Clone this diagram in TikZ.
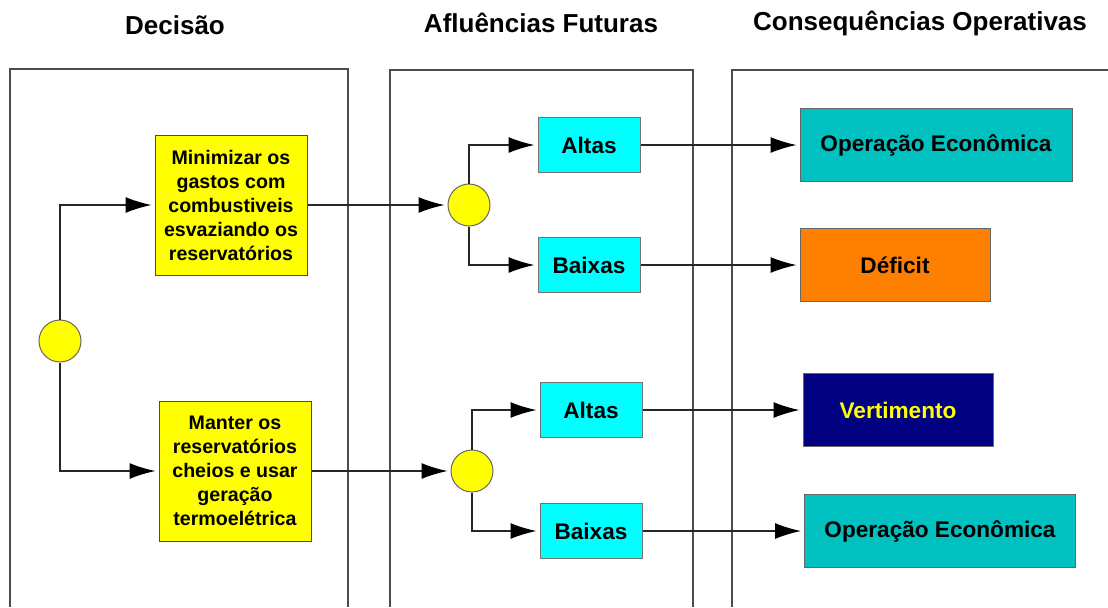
\documentclass[tikz,border=0pt]{standalone}
\usepackage{fontspec}
\setmainfont{Liberation Sans}
\usetikzlibrary{arrows.meta}
\definecolor{amarelo}{HTML}{FFFF00}
\definecolor{ciano}{HTML}{00FFFF}
\definecolor{verdeagua}{HTML}{00C0C0}
\definecolor{laranja}{HTML}{FF8000}
\definecolor{marinho}{HTML}{000080}
\begin{document}
\begin{tikzpicture}[x=0.5pt,y=-0.5pt,
  every node/.style={font=\bfseries,inner sep=0pt},
  head/.style={font=\fontsize{13}{15}\selectfont\bfseries},
  frame/.style={draw=black!70,line width=0.7pt},
  decbox/.style={draw=black!70,line width=0.5pt,fill=amarelo,align=center,minimum width=76pt,minimum height=70pt,font=\fontsize{9.8}{12}\selectfont\bfseries},
  aflbox/.style={draw=black!55,line width=0.5pt,fill=ciano,minimum width=51pt,minimum height=27.5pt,font=\fontsize{11.3}{13}\selectfont\bfseries},
  conbox/.style={draw=black!60,line width=0.5pt,minimum height=36.5pt,font=\fontsize{11.3}{13}\selectfont\bfseries},
  chance/.style={circle,draw=black!60,line width=0.5pt,fill=amarelo,minimum size=21pt},
  link/.style={draw=black!85,line width=0.7pt,-{Latex[length=13pt,width=8pt,color=black]},shorten >=1.5pt}]
\useasboundingbox (0,0) rectangle (1108,607);
% columns: decision, future inflows, operational consequences
\node[head] (hDec) at (175,25) {Decisão};
\node[head] (hAfl) at (541,23) {Afluências Futuras};
\node[head] (hCons) at (920,23) {Consequências Operativas};
\draw[frame] (10,607)--(10,69)--(348,69)--(348,607);
\draw[frame] (390,607)--(390,70)--(693,70)--(693,607);
\draw[frame] (732,607)--(732,70)--(1108,70);
\node[chance] (c0) at (60,341) {};
\node[decbox] (dec1) at (231,205) {Minimizar os\\gastos com\\combustiveis\\esvaziando os\\reservatórios};
\node[decbox] (dec2) at (235,471) {Manter os\\reservatórios\\cheios e usar\\geração\\termoelétrica};
\node[chance] (c1) at (469,205) {};
\node[chance] (c2) at (472,471) {};
\node[aflbox] (alta1) at (589,145) {Altas};
\node[aflbox] (baixa1) at (589,265) {Baixas};
\node[aflbox] (alta2) at (591,410) {Altas};
\node[aflbox] (baixa2) at (591,531) {Baixas};
\node[conbox,fill=verdeagua,minimum width=136pt] (op1) at (936,145) {Operação Econômica};
\node[conbox,fill=laranja,minimum width=95pt] (def) at (895,265) {Déficit};
\node[conbox,fill=marinho,text=amarelo,minimum width=95pt] (vert) at (898,410) {Vertimento};
\node[conbox,fill=verdeagua,minimum width=135.5pt] (op2) at (940,531) {Operação Econômica};
\draw[link] (c0.north) |- (dec1.west);
\draw[link] (c0.south) |- (dec2.west);
\draw[link] (dec1.east) -- (c1.west);
\draw[link] (dec2.east) -- (c2.west);
\foreach \c/\a/\b in {c1/alta1/baixa1,c2/alta2/baixa2} {
  \draw[link] (\c.north) |- (\a.west);
  \draw[link] (\c.south) |- (\b.west);
}
\foreach \a/\b in {alta1/op1,baixa1/def,alta2/vert,baixa2/op2}
  \draw[link] (\a.east) -- (\b.west);
\end{tikzpicture}
\end{document}
